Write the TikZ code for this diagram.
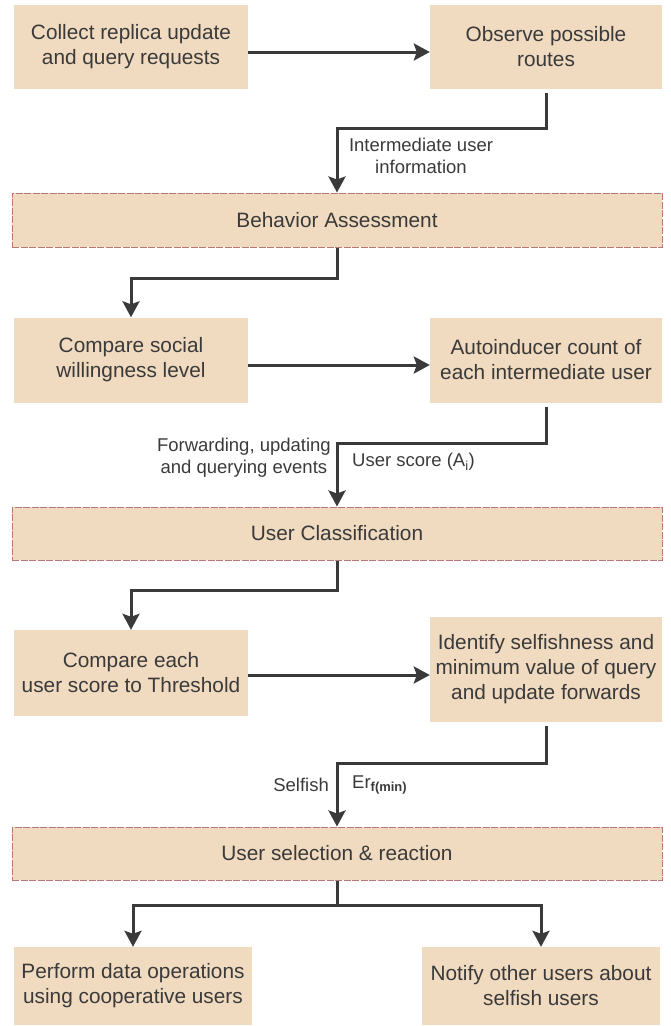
\documentclass[tikz,border=0pt]{standalone}
\usepackage{fontspec}
\setmainfont{Liberation Sans}
\usetikzlibrary{arrows.meta}
\definecolor{boxfill}{HTML}{F0DAC0}
\definecolor{boxline}{HTML}{B87878}
\definecolor{ink}{HTML}{3A3A3A}
\begin{document}
\begin{tikzpicture}[x=1pt,y=-1pt,
  box/.style={fill=boxfill, draw=none, align=center, text=ink,
    font=\fontsize{20.8}{25}\selectfont, inner sep=0pt},
  wide/.style={box, draw=boxline, dash pattern=on 7pt off 1.5pt, line width=1pt,
    minimum width=650pt, minimum height=54pt},
  small/.style={box, minimum width=234pt},
  conn/.style={draw=ink, line width=3pt, -{Stealth[width=17pt,length=16pt,inset=3pt]}},
  lab/.style={text=ink, font=\fontsize{18.5}{22}\selectfont, align=center, inner sep=0pt}]
\useasboundingbox (0,0) rectangle (670,1026);
% boxes
\node[small, minimum height=84pt] (A) at (131,47) {Collect replica update\\and query requests};
\node[small, minimum width=232pt, minimum height=84pt] (B) at (546,47) {Observe possible\\routes};
\node[wide] (beh) at (337,220) {Behavior Assessment};
\node[small, minimum height=85pt] (C) at (131,360) {Compare social\\willingness level};
\node[small, minimum width=232pt, minimum height=85pt] (D) at (546,360) {Autoinducer count of\\each intermediate user};
\node[wide, minimum height=53pt] (cls) at (337,533.5) {User Classification};
\node[small, minimum height=86pt] (E) at (131,673) {Compare each\\user score to Threshold};
\node[small, minimum width=232pt, minimum height=105pt] (F) at (546,669.5) {Identify selfishness and\\minimum value of query\\and update forwards};
\node[wide, minimum height=53pt] (sel) at (337,853.5) {User selection \& reaction};
\node[small, minimum width=238pt, minimum height=78pt] (G) at (133,986) {Perform data operations\\using cooperative users};
\node[small, minimum width=238pt, minimum height=78pt] (H) at (541,986) {Notify other users about\\selfish users};
% junction coordinates
\coordinate (k1) at (337,128);
\coordinate (k2) at (337,278);
\coordinate (k3) at (337,443);
\coordinate (k4) at (337,590);
\coordinate (k5) at (337,763);
\coordinate (k6) at (337,905);
% connectors
\draw[conn] ([yshift=-5pt]A.east) -- ([yshift=-5pt]B.west);
\draw[conn, shorten <=4pt] (B.south) |- (k1) -- (beh.north);
\draw[conn] (beh.south) -- (k2) -| (C.north);
\draw[conn] ([yshift=-5pt]C.east) -- ([yshift=-5pt]C.east -| D.west);
\draw[conn, shorten <=4pt] (D.south) |- (k3) -- (cls.north);
\draw[conn] (cls.south) -- (k4) -| (E.north);
\draw[conn] ([yshift=-2pt]E.east) -- ([yshift=-2pt]E.east -| F.west);
\draw[conn, shorten <=4pt] (F.south) |- (k5) -- (sel.north);
\draw[draw=ink, line width=3pt] (sel.south) -- (k6);
\draw[conn] (k6) -| (G.north);
\draw[conn] (k6) -| (H.north);
% labels
\node[lab] (l1) at (421,156) {Intermediate user\\information};
\node[lab, anchor=east] (l2) at (331,458) {Forwarding, updating\\and querying events};
\node[lab, anchor=west] (l3) at (352,462) {User score (A\textsubscript{i})};
\node[lab, anchor=east] (l4) at (329,785) {Selfish};
\node[lab, anchor=west] (l5) at (352,785) {Er\textsubscript{\textbf{f(min)}}};
\end{tikzpicture}
\end{document}
